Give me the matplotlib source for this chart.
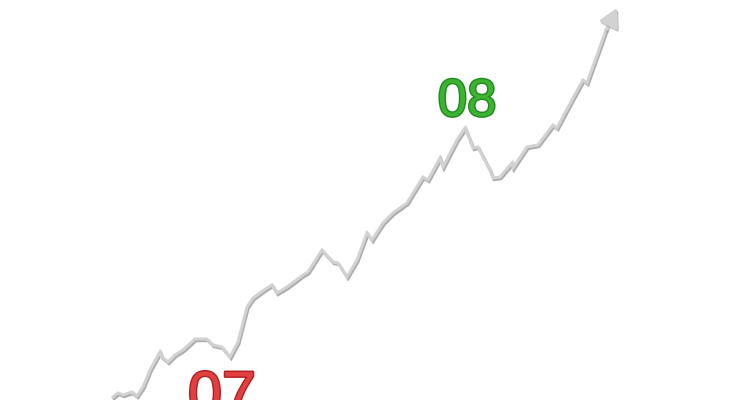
import matplotlib
matplotlib.use("Agg")
import matplotlib.pyplot as plt
import matplotlib.patheffects as pe
from matplotlib import font_manager

# line trace (image pixel coordinates, y grows downward)
x_vals = [113, 118, 123, 132, 137, 143, 150, 160, 162, 168, 175, 183, 195, 207,
          213, 222, 230, 238, 247, 253, 267, 272, 277, 287, 303, 308, 322, 333,
          338, 347, 357, 367, 372, 383, 393, 407, 423, 428, 440, 443, 457, 465,
          470, 473, 478, 490, 493, 500, 512, 513, 527, 538, 553, 557, 572, 583,
          587, 606]
y_vals = [397, 393, 395, 392, 396, 387, 370, 352, 357, 362, 355, 350, 339, 339,
          345, 347, 357, 342, 307, 298, 288, 285, 293, 287, 275, 272, 250, 262,
          263, 277, 260, 233, 240, 223, 213, 203, 177, 180, 158, 167, 140, 128,
          140, 148, 147, 170, 178, 177, 163, 168, 147, 145, 125, 128, 100, 80,
          83, 30]
arrow_tip = (617, 8)

labels = ["07", "08"]
label_pos = [(222, 370), (467, 77)]
label_colors = ["#e0403f", "#3cb432"]
label_edges = ["#b01e22", "#1f8a1c"]
label_sizes = [44, 38]

installed = {f.name for f in font_manager.fontManager.ttflist}
family = [f for f in ["Liberation Sans Narrow", "DejaVu Sans Condensed",
                      "Liberation Sans"] if f in installed] + ["DejaVu Sans"]

fig = plt.figure(figsize=(7.5, 4), dpi=100)
ax = fig.add_axes([0, 0, 1, 1])
ax.set_xlim(0, 750)
ax.set_ylim(400, 0)
ax.axis("off")

shadow = [pe.SimpleLineShadow(offset=(0.8, -1.2), shadow_color="#8a8a8a", alpha=0.7),
          pe.Normal()]
ax.plot(x_vals, y_vals, color="#d2d2d2", lw=2.2, solid_joinstyle="miter",
        path_effects=shadow)

ax.annotate("", xy=arrow_tip, xytext=(x_vals[-1], y_vals[-1]),
            arrowprops=dict(arrowstyle="-|>,head_length=1.1,head_width=0.6",
                            color="#d2d2d2", lw=2.2, shrinkA=0, shrinkB=0,
                            path_effects=[pe.SimpleLineShadow(offset=(0.8, -1.2),
                                                              shadow_color="#9a9a9a",
                                                              alpha=0.6),
                                          pe.Normal()]))

for lab, (lx, ly), col, edge, sz in zip(labels, label_pos, label_colors,
                                        label_edges, label_sizes):
    ax.text(lx, ly, lab, color=col, fontsize=sz, ha="center", va="top",
            family=family,
            path_effects=[pe.withStroke(linewidth=2, foreground=edge)])

fig.savefig("out.png", dpi=100)
